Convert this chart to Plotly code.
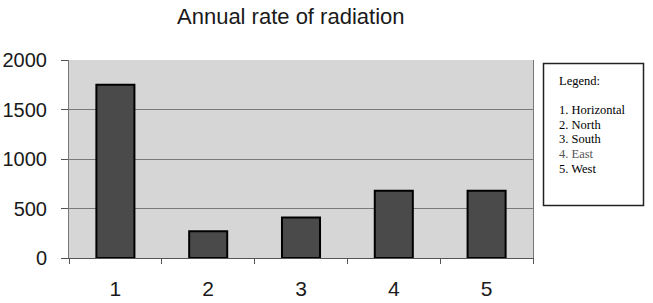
import plotly.graph_objects as go

categories = ["1", "2", "3", "4", "5"]
values = [1750, 270, 410, 680, 680]
y_ticks = [0, 500, 1000, 1500, 2000]
legend_title = "Legend:"
legend_items = ["1. Horizontal", "2. North", "3. South", "4. East", "5. West"]
legend_colors = ["#000000", "#000000", "#000000", "#555555", "#000000"]
title_text = "Annual rate of radiation"

W, H = 653, 303
L, R, T, B = 69, 120, 60, 45
pw, ph = W - L - R, H - T - B

def px_x(x):
    return (x - L) / pw

def px_y(y):
    return (H - B - y) / ph

fig = go.Figure()
fig.add_trace(go.Bar(
    x=categories, y=values,
    marker=dict(color="#4a4a4a", line=dict(color="#000000", width=2)),
    width=0.41,
))

fig.update_layout(
    width=W, height=H,
    margin=dict(l=L, r=R, t=T, b=B, pad=0),
    paper_bgcolor="#ffffff",
    plot_bgcolor="#d6d6d6",
    showlegend=False,
    font=dict(family="Liberation Sans, Arial", color="#1a1a1a"),
)
fig.update_xaxes(
    type="category",
    tickson="boundaries",
    ticks="outside", ticklen=5, tickcolor="#555555",
    showline=True, linecolor="#555555", linewidth=1,
    showgrid=False,
    tickfont=dict(size=21),
    ticklabelstandoff=12,
    automargin=False,
)
fig.update_yaxes(
    range=[0, 2000],
    tickvals=y_ticks,
    ticks="outside", ticklen=7, tickcolor="#555555",
    showline=True, linecolor="#777777", linewidth=1, mirror=True,
    showgrid=True, gridcolor="#7a7a7a", gridwidth=1,
    zeroline=False,
    tickfont=dict(size=20),
    ticklabelstandoff=10,
    automargin=False,
)

# title (kept fully visible near the top edge)
fig.add_annotation(
    text=title_text, xref="paper", yref="paper",
    x=px_x(291), y=px_y(2), xanchor="center", yanchor="top",
    showarrow=False, font=dict(size=22, family="Liberation Sans, Arial", color="#1a1a1a"),
)

# legend box
fig.add_shape(
    type="rect", xref="paper", yref="paper",
    x0=px_x(543.5), x1=px_x(643.5), y0=px_y(205.5), y1=px_y(63.5),
    line=dict(color="#222222", width=1.5), fillcolor="#ffffff",
)
fig.add_annotation(
    text=legend_title, xref="paper", yref="paper",
    x=px_x(557), y=px_y(81), xanchor="left", yanchor="middle",
    showarrow=False, font=dict(size=12.5, family="Liberation Serif, Times New Roman", color="#000000"),
)
ys = [110, 125, 139, 154, 169]
for txt, col, yy in zip(legend_items, legend_colors, ys):
    fig.add_annotation(
        text=txt, xref="paper", yref="paper",
        x=px_x(557), y=px_y(yy), xanchor="left", yanchor="middle",
        showarrow=False, font=dict(size=12.5, family="Liberation Serif, Times New Roman", color=col),
    )

fig.write_html("out.html")
